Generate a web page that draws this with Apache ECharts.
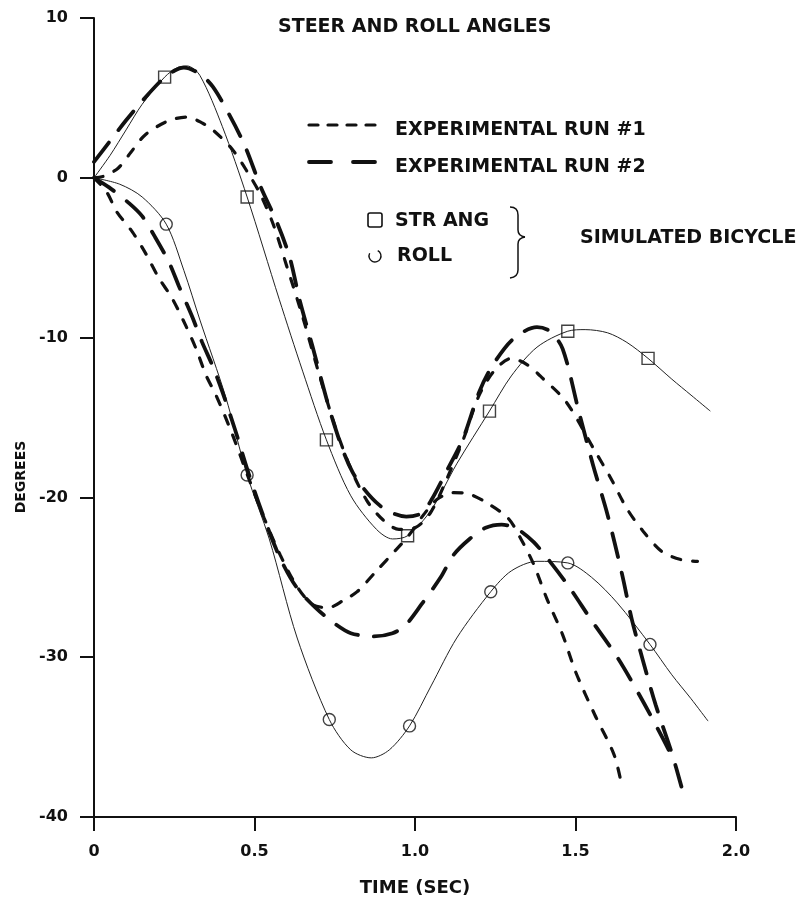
<!DOCTYPE html>
<html>
<head>
<meta charset="utf-8">
<title>Steer and Roll Angles</title>
<script src="https://cdn.jsdelivr.net/npm/echarts@6/dist/echarts.min.js"></script>
<style>
  html, body { margin: 0; padding: 0; background: #fff; }
  #chart { width: 811px; height: 902px; }
</style>
</head>
<body>
<div id="chart"></div>
<script>
// Axis tick labels
const xTickLabels = ['0', '0.5', '1.0', '1.5', '2.0'];
const yTickLabels = ['-40', '-30', '-20', '-10', '0', '10'];

// Simulated bicycle: steer angle curve (deg) vs time (s)
const simSteerT = [0, 0.05, 0.1, 0.15, 0.22, 0.26, 0.29, 0.33, 0.4, 0.477, 0.577, 0.65, 0.724, 0.8, 0.88, 0.93, 0.977, 1.05, 1.13, 1.232, 1.3, 1.38, 1.476, 1.53, 1.6, 1.66, 1.726, 1.8, 1.86, 1.92];
const simSteerDeg = [0, 1.4, 3.0, 4.6, 6.3, 6.9, 7.0, 6.4, 3.2, -1.2, -7.6, -12.1, -16.4, -19.9, -22.0, -22.6, -22.4, -20.8, -17.9, -14.6, -12.4, -10.6, -9.6, -9.5, -9.7, -10.3, -11.3, -12.6, -13.6, -14.6];
// Simulated steer angle sample points (squares)
const strAngMarkT = [0.22, 0.477, 0.724, 0.977, 1.232, 1.476, 1.726];
const strAngMarkDeg = [6.3, -1.2, -16.4, -22.4, -14.6, -9.6, -11.3];

// Simulated bicycle: roll angle curve
const simRollT = [0, 0.08, 0.15, 0.225, 0.28, 0.33, 0.41, 0.477, 0.546, 0.633, 0.733, 0.8, 0.864, 0.92, 0.983, 1.05, 1.13, 1.236, 1.3, 1.38, 1.476, 1.55, 1.63, 1.732, 1.8, 1.86, 1.913];
const simRollDeg = [0, -0.4, -1.2, -2.9, -5.8, -8.9, -13.7, -18.6, -22.6, -28.8, -33.9, -35.8, -36.3, -35.8, -34.3, -31.8, -28.8, -25.9, -24.6, -24.0, -24.1, -25.0, -26.6, -29.2, -31.1, -32.6, -34.0];
// Simulated roll sample points (circles)
const rollMarkT = [0.225, 0.477, 0.733, 0.983, 1.236, 1.476, 1.732];
const rollMarkDeg = [-2.9, -18.6, -33.9, -34.3, -25.9, -24.1, -29.2];

// Experimental run #1 (short dashes)
const run1SteerT = [0, 0.03, 0.075, 0.115, 0.16, 0.23, 0.29, 0.34, 0.37, 0.43, 0.48, 0.52, 0.56, 0.6, 0.65, 0.7, 0.75, 0.8, 0.85, 0.9, 0.95, 1.0, 1.05, 1.1, 1.15, 1.2, 1.25, 1.3, 1.35, 1.39, 1.47, 1.555, 1.61, 1.66, 1.71, 1.77, 1.83, 1.88];
const run1SteerDeg = [0, 0.1, 0.6, 1.6, 2.7, 3.55, 3.8, 3.4, 3.0, 1.8, 0.3, -1.1, -3.0, -5.5, -8.7, -12.2, -15.5, -18.2, -20.2, -21.4, -22.0, -21.9, -20.9, -18.8, -16.4, -13.6, -12.0, -11.3, -11.7, -12.4, -14.0, -16.9, -18.8, -20.7, -22.1, -23.4, -23.9, -24.0];
const run1RollT = [0, 0.04, 0.07, 0.12, 0.16, 0.2, 0.245, 0.287, 0.318, 0.35, 0.38, 0.43, 0.48, 0.53, 0.58, 0.63, 0.68, 0.73, 0.78, 0.82, 0.88, 0.94, 0.98, 1.03, 1.07, 1.12, 1.17, 1.22, 1.29, 1.33, 1.37, 1.41, 1.46, 1.5, 1.56, 1.62, 1.645];
const run1RollDeg = [0, -0.9, -2.1, -3.4, -4.7, -6.2, -7.6, -9.3, -10.7, -12.4, -13.6, -16.0, -18.7, -21.3, -23.6, -25.5, -26.7, -26.9, -26.4, -25.9, -24.6, -23.3, -22.4, -21.0, -20.1, -19.7, -19.8, -20.3, -21.3, -22.6, -24.2, -26.3, -28.6, -30.9, -33.6, -36.1, -38.1];

// Experimental run #2 (long dashes)
const run2SteerT = [0, 0.05, 0.1, 0.15, 0.21, 0.25, 0.28, 0.33, 0.37, 0.42, 0.47, 0.52, 0.57, 0.61, 0.64, 0.68, 0.743, 0.805, 0.89, 0.973, 1.02, 1.05, 1.1, 1.15, 1.2, 1.24, 1.305, 1.38, 1.42, 1.46, 1.51, 1.555, 1.6, 1.645, 1.675, 1.71, 1.75, 1.8, 1.83];
const run2SteerDeg = [1.0, 2.3, 3.6, 4.8, 6.1, 6.7, 6.9, 6.5, 5.7, 4.0, 2.0, -0.6, -2.8, -5.0, -7.6, -10.5, -15.1, -18.4, -20.5, -21.2, -21.0, -20.2, -18.3, -16.3, -13.4, -11.8, -10.1, -9.35, -9.6, -10.7, -14.6, -18.0, -21.1, -24.8, -27.6, -30.2, -33.0, -36.0, -38.1];
const run2RollT = [0, 0.047, 0.11, 0.15, 0.19, 0.234, 0.265, 0.306, 0.337, 0.37, 0.4, 0.44, 0.48, 0.53, 0.58, 0.63, 0.69, 0.75, 0.8, 0.87, 0.93, 0.97, 1.02, 1.08, 1.12, 1.17, 1.22, 1.27, 1.32, 1.37, 1.42, 1.48, 1.55, 1.63, 1.7, 1.77, 1.81];
const run2RollDeg = [0, -0.6, -1.6, -2.4, -3.7, -5.3, -6.8, -8.7, -10.3, -11.8, -13.4, -15.8, -18.4, -21.3, -23.8, -25.6, -26.9, -27.9, -28.5, -28.7, -28.5, -28.0, -26.7, -25.0, -23.6, -22.6, -21.9, -21.7, -22.0, -22.8, -24.0, -25.6, -27.7, -30.0, -32.4, -35.0, -36.6];

const zip = (t, v) => t.map((x, i) => [x, v[i]]);

const INK = '#111';
const FONT = '"DejaVu Sans", "Liberation Sans", sans-serif';

const shortDash = { color: INK, width: 3.2, type: [9, 12], cap: 'round' };
const longDash = { color: INK, width: 3.8, type: [24, 16], cap: 'round' };
const thinLine = { color: '#222', width: 1 };

function curve(name, t, v, style) {
  return {
    name, type: 'line', data: zip(t, v), smooth: 0.3,
    showSymbol: false, symbol: 'none', lineStyle: style,
    silent: true, z: 2
  };
}
function markers(name, t, v, symbol, size) {
  return {
    name, type: 'scatter', data: zip(t, v), symbol, symbolSize: size,
    itemStyle: { color: 'rgba(0,0,0,0)', borderColor: INK, borderWidth: 1.4 },
    silent: true, z: 3
  };
}
function label(text, x, y, size) {
  return {
    type: 'text', x, y,
    style: { text, font: 'bold ' + size + 'px ' + FONT, fill: INK, align: 'left', verticalAlign: 'middle' }
  };
}

const chart = echarts.init(document.getElementById('chart'), null, { renderer: 'canvas' });

const option = {
  animation: false,
  backgroundColor: '#fff',
  title: {
    text: 'STEER AND ROLL ANGLES',
    left: 278, top: 18, padding: 0,
    textStyle: { fontFamily: FONT, fontWeight: 'bold', fontSize: 19, color: INK }
  },
  grid: { left: 94, right: 75, top: 18, bottom: 81 },
  xAxis: {
    type: 'value', min: 0, max: 2, interval: 0.5,
    name: 'TIME (SEC)', nameLocation: 'middle', nameGap: 62,
    nameTextStyle: { fontFamily: FONT, fontWeight: 'bold', fontSize: 18, color: INK },
    axisLine: { onZero: false, lineStyle: { color: INK, width: 2 } },
    axisTick: { length: 14, lineStyle: { color: INK, width: 2 } },
    axisLabel: {
      margin: 27, fontFamily: FONT, fontWeight: 'bold', fontSize: 16, color: INK,
      formatter: (val, idx) => xTickLabels[idx]
    },
    splitLine: { show: false }
  },
  yAxis: {
    type: 'value', min: -40, max: 10, interval: 10,
    axisLine: { show: true, onZero: false, lineStyle: { color: INK, width: 2 } },
    axisTick: { show: true, length: 14, lineStyle: { color: INK, width: 2 } },
    axisLabel: {
      margin: 26, fontFamily: FONT, fontWeight: 'bold', fontSize: 16, color: INK,
      formatter: (val, idx) => yTickLabels[idx]
    },
    splitLine: { show: false }
  },
  series: [
    curve('Simulated steer', simSteerT, simSteerDeg, thinLine),
    curve('Simulated roll', simRollT, simRollDeg, thinLine),
    curve('Run 1 steer', run1SteerT, run1SteerDeg, shortDash),
    curve('Run 1 roll', run1RollT, run1RollDeg, shortDash),
    curve('Run 2 steer', run2SteerT, run2SteerDeg, longDash),
    curve('Run 2 roll', run2RollT, run2RollDeg, longDash),
    markers('STR ANG', strAngMarkT, strAngMarkDeg, 'rect', 12),
    markers('ROLL', rollMarkT, rollMarkDeg, 'circle', 12)
  ],
  graphic: [
    // vertical axis title
    {
      type: 'text', x: 21, y: 477, rotation: Math.PI / 2,
      style: { text: 'DEGREES', font: 'bold 14px ' + FONT, fill: INK, align: 'center', verticalAlign: 'middle' }
    },
    // key: experimental runs
    {
      type: 'line', shape: { x1: 309, y1: 125, x2: 379, y2: 125 },
      style: { stroke: INK, lineWidth: 3.2, lineDash: [9, 10], lineCap: 'round' }
    },
    label('EXPERIMENTAL RUN #1', 395, 130, 19),
    {
      type: 'line', shape: { x1: 309, y1: 162, x2: 377, y2: 162 },
      style: { stroke: INK, lineWidth: 3.8, lineDash: [22, 22], lineCap: 'round' }
    },
    label('EXPERIMENTAL RUN #2', 395, 167, 19),
    // key: simulated bicycle symbols
    {
      type: 'rect', shape: { x: 368, y: 213, width: 14, height: 14, r: 2 },
      style: { fill: 'none', stroke: INK, lineWidth: 1.6 }
    },
    label('STR ANG', 395, 221, 19),
    {
      type: 'arc', shape: { cx: 375, cy: 256, r: 6, startAngle: -Math.PI * 0.35, endAngle: Math.PI * 1.15, clockwise: true },
      style: { fill: 'none', stroke: INK, lineWidth: 1.4 }
    },
    label('ROLL', 397, 256, 19),
    // brace grouping the simulated entries
    { type: 'bezierCurve', shape: { x1: 510, y1: 207, cpx1: 518, cpy1: 207, x2: 518, y2: 215 }, style: { stroke: INK, lineWidth: 1.5, fill: 'none' } },
    { type: 'line', shape: { x1: 518, y1: 215, x2: 518, y2: 230 }, style: { stroke: INK, lineWidth: 1.5 } },
    { type: 'bezierCurve', shape: { x1: 518, y1: 230, cpx1: 518, cpy1: 236, x2: 525, y2: 237 }, style: { stroke: INK, lineWidth: 1.5, fill: 'none' } },
    { type: 'bezierCurve', shape: { x1: 525, y1: 237, cpx1: 518, cpy1: 238, x2: 518, y2: 244 }, style: { stroke: INK, lineWidth: 1.5, fill: 'none' } },
    { type: 'line', shape: { x1: 518, y1: 244, x2: 518, y2: 270 }, style: { stroke: INK, lineWidth: 1.5 } },
    { type: 'bezierCurve', shape: { x1: 518, y1: 270, cpx1: 518, cpy1: 277, x2: 510, y2: 278 }, style: { stroke: INK, lineWidth: 1.5, fill: 'none' } },
    label('SIMULATED BICYCLE', 580, 238, 19)
  ]
};

chart.setOption(option);
</script>
</body>
</html>
